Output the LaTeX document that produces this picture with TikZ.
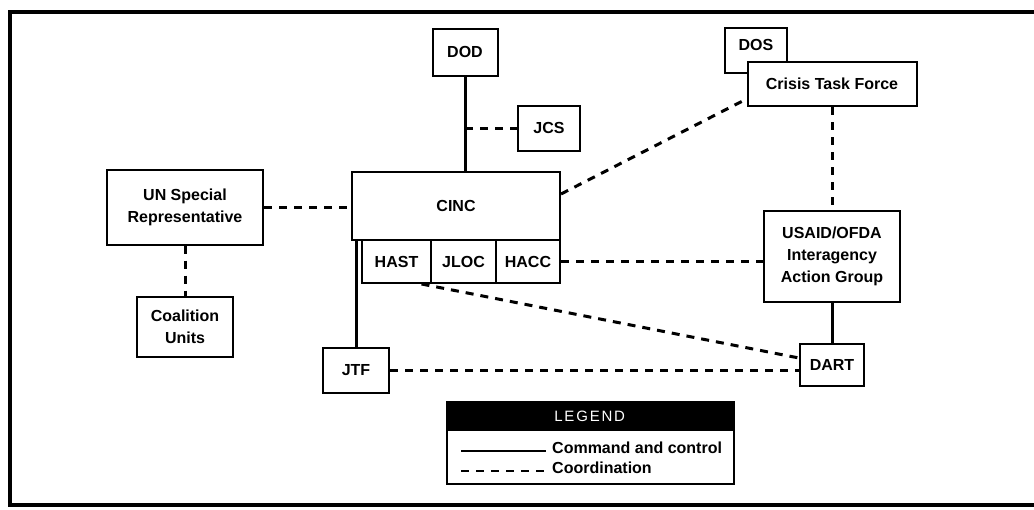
\documentclass[tikz,border=0pt]{standalone}
\usepackage{fontspec}
\setmainfont{Liberation Sans}
\begin{document}
\begin{tikzpicture}[x=1pt,y=-1pt,
    box/.style={draw,line width=2pt,fill=white,inner sep=0pt,align=center,
      font=\fontsize{16}{22}\selectfont\bfseries},
    cmd/.style={line width=3pt},
    coord/.style={line width=3pt,dash pattern=on 8pt off 7pt}]
  \useasboundingbox (0,0) rectangle (1034,509);
  \draw[line width=4pt] (1034,12) -| (10,505) -- (1034,505);
  % agencies
  \node[box,minimum width=65pt,minimum height=47pt] (dod) at (465,52) {DOD};
  \node[box,minimum width=62pt,minimum height=45pt] (jcs) at (549,128) {JCS};
  \node[box,minimum width=62pt,minimum height=45pt,text depth=10pt] (dos) at (756,50) {DOS};
  \node[box,minimum width=169pt,minimum height=44pt] (ctf) at (832,84) {Crisis Task Force};
  \node[box,minimum width=156pt,minimum height=75pt] (unrep) at (185,207) {UN Special\\Representative};
  \node[box,minimum width=96pt,minimum height=60pt] (coal) at (185,327) {Coalition\\Units};
  \node[box,minimum width=208pt,minimum height=68pt] (cinc) at (456,206) {CINC};
  \node[box,minimum width=69pt,minimum height=43pt] (hast) at (396.5,261.5) {HAST};
  \node[box,minimum width=65pt,minimum height=43pt] (jloc) at (463.5,261.5) {JLOC};
  \node[box,minimum width=64pt,minimum height=43pt] (hacc) at (528,261.5) {HACC};
  \node[box,minimum width=136pt,minimum height=91pt] (usaid) at (832,256) {USAID/OFDA\\Interagency\\Action Group};
  \node[box,minimum width=66pt,minimum height=45pt] (jtf) at (356,370) {JTF};
  \node[box,minimum width=64pt,minimum height=42pt] (dart) at (832,365) {DART};
  % links
  \draw[cmd] (dod) -- (dod |- cinc.north);
  \draw[coord] (jcs.west -| dod) -- (jcs.west);
  \draw[coord] (unrep.east) -- (unrep.east -| cinc.west);
  \draw[coord] (unrep) -- (coal);
  \draw[cmd] (cinc.south -| jtf) -- (jtf.north);
  \draw[coord] ([yshift=-23pt]cinc.north east) -- ([yshift=8pt]ctf.south west);
  \draw[coord] (ctf) -- (usaid);
  \draw[coord] (hacc.east) -- (hacc.east -| usaid.west);
  \draw[cmd] (usaid) -- (dart);
  \draw[coord] ([xshift=25pt]hast.south) -- ([yshift=7pt]dart.west);
  \draw[coord] (jtf.east) -- (jtf.east -| dart.west);
  % legend
  \node[draw,line width=1.5pt,minimum width=287pt,minimum height=82pt,anchor=north west] (legend) at (446,401) {};
  \node[fill=black,text=white,minimum width=287pt,minimum height=30pt,anchor=north west,
    font=\fontsize{15}{17}\selectfont\addfontfeature{LetterSpace=12}] (leghead) at (446,401) {LEGEND};
  \node[anchor=west,inner sep=0pt,font=\fontsize{16}{18}\selectfont\bfseries] (cctext) at (552,448) {Command and control};
  \node[anchor=west,inner sep=0pt,font=\fontsize{16}{18}\selectfont\bfseries] (cotext) at (552,468) {Coordination};
  \draw[line width=2pt] ([xshift=-91pt,yshift=-3pt]cctext.west) -- ([xshift=-6pt,yshift=-3pt]cctext.west);
  \draw[coord,line width=2.5pt] ([xshift=-91pt,yshift=-3pt]cotext.west) -- ([xshift=-3pt,yshift=-3pt]cotext.west);
\end{tikzpicture}
\end{document}
